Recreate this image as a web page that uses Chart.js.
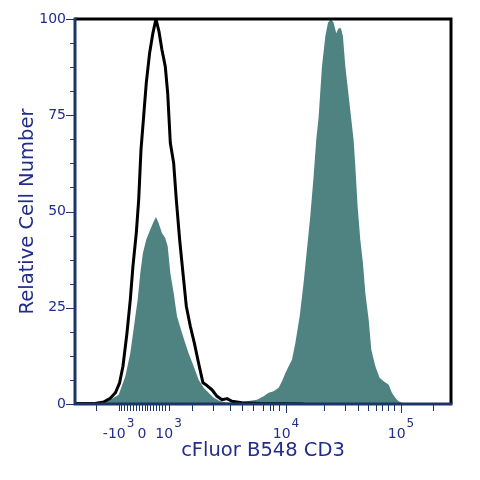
<!DOCTYPE html>
<html>
<head>
<meta charset="utf-8">
<script src="https://cdn.jsdelivr.net/npm/chart.js@4.4.0/dist/chart.umd.min.js"></script>
<style>
  html, body { margin: 0; padding: 0; background: #fff; }
</style>
</head>
<body>
<canvas id="histChart" width="480" height="480"></canvas>
<script>
// x values are in display units of the biexponential axis (10^4 at 4, 10^5 at 5)
const stainedX = [2.165, 2.356, 2.472, 2.545, 2.603, 2.646, 2.690, 2.710, 2.733, 2.756, 2.785, 2.820, 2.849, 2.869, 2.892, 2.921, 2.950, 2.971, 2.994, 3.023,
  3.052, 3.087, 3.124, 3.153, 3.197, 3.240, 3.284, 3.327, 3.371, 3.429, 3.487, 3.574, 3.661, 3.748, 3.806, 3.849, 3.892, 3.936, 3.965, 3.994,
  4.023, 4.052, 4.081, 4.119, 4.153, 4.182, 4.211, 4.240, 4.263, 4.284, 4.313, 4.342, 4.365, 4.391, 4.414, 4.437, 4.458, 4.478, 4.495, 4.516,
  4.545, 4.565, 4.588, 4.603, 4.623, 4.646, 4.669, 4.690, 4.719, 4.742, 4.777, 4.814, 4.849, 4.893, 4.921, 4.950, 4.979, 5.008, 5.052, 5.435];
const stainedY = [0, 0.3, 1.1, 2.4, 7.2, 13.2, 22.8, 27.1, 34.0, 39.2, 42.7, 45.3, 47.4, 48.6, 47.0, 44.4, 43.1, 41.0, 34.0, 28.8,
  22.8, 19.3, 15.8, 13.2, 9.8, 6.3, 4.2, 2.9, 1.6, 0.7, 0.4, 0.4, 0.7, 1.1, 2.0, 2.9, 3.3, 4.2, 5.9, 8.0,
  9.8, 11.5, 15.8, 22.8, 31.4, 40.1, 48.7, 59.1, 68.6, 74.7, 87.7, 95.5, 99.0, 100, 99.0, 96.3, 97.6, 97.6, 95.5, 87.7,
  80.0, 74.7, 68.6, 61.7, 51.3, 42.7, 36.6, 28.8, 21.9, 14.1, 9.8, 6.8, 5.9, 5.0, 2.9, 1.6, 0.7, 0.3, 0, 0];

const controlX = [2.165, 2.327, 2.414, 2.472, 2.516, 2.553, 2.582, 2.617, 2.646, 2.669, 2.698, 2.719, 2.739, 2.762, 2.785, 2.814, 2.843, 2.869, 2.895, 2.921,
  2.950, 2.971, 2.994, 3.023, 3.046, 3.075, 3.104, 3.133, 3.168, 3.203, 3.240, 3.278, 3.313, 3.356, 3.400, 3.443, 3.487, 3.530, 3.617, 3.777, 4.153];
const controlY = [0.1, 0.1, 0.5, 1.5, 2.9, 5.5, 9.8, 18.4, 27.1, 35.8, 44.4, 53.1, 66.1, 74.7, 83.4, 91.2, 96.4, 100, 96.8, 92.0,
  87.7, 80.8, 67.8, 62.6, 53.1, 42.7, 34.0, 25.4, 20.2, 15.8, 10.6, 5.5, 4.8, 3.7, 2.0, 1.1, 1.4, 0.7, 0.3, 0.1, 0];

// axis ticks and labels
const xTickValues = [2.348, 2.544, 2.568, 2.594, 2.620, 2.646, 2.672, 2.697, 2.723, 2.750, 2.772, 2.794, 2.820, 2.846, 2.872, 2.898, 2.924, 2.950, 2.979,
  3.183, 3.362, 3.515, 3.620, 3.713, 3.796, 3.862, 3.887, 3.942, 4.0,
  4.329, 4.510, 4.623, 4.710, 4.780, 4.836, 4.891, 4.935, 5.0, 5.275];
const xMajorTicks = [4.0, 5.0];
const xLabelPositions = [2.544, 2.748, 2.979, 4.0, 5.0];
const xLabelBases = ['-10', '0', '10', '10', '10'];
const xLabelExponents = ['3', '', '3', '4', '5'];
const yMajorStep = 25;

const textColor = '#222c8c';
const axisColor = '#1b3566';
const fillColor = '#4f8381';
const fontFamily = "'DejaVu Sans', Verdana, sans-serif";

const toPoints = (xs, ys) => xs.map((x, i) => ({ x: x, y: ys[i] }));

// draws frame, tick marks and the superscript x labels
const flowAxesPlugin = {
  id: 'flowAxes',
  afterDatasetsDraw(chart) {
    const { ctx, chartArea: a, scales: { x, y } } = chart;
    ctx.save();
    ctx.lineCap = 'butt';

    ctx.strokeStyle = '#000';
    ctx.lineWidth = 3;
    ctx.beginPath();
    ctx.moveTo(a.left, a.top);
    ctx.lineTo(a.right, a.top);
    ctx.lineTo(a.right, a.bottom);
    ctx.stroke();

    ctx.strokeStyle = axisColor;
    ctx.beginPath();
    ctx.moveTo(a.left, a.top - 1.5);
    ctx.lineTo(a.left, a.bottom);
    ctx.lineTo(a.right + 1.5, a.bottom);
    ctx.stroke();

    ctx.lineWidth = 1;
    ctx.beginPath();
    y.ticks.forEach(t => {
      const py = Math.round(y.getPixelForValue(t.value)) + 0.5;
      const len = t.value % yMajorStep === 0 ? 9 : 5;
      ctx.moveTo(a.left - len, py);
      ctx.lineTo(a.left, py);
    });
    xTickValues.forEach(v => {
      const px = Math.round(x.getPixelForValue(v)) + 0.5;
      const len = xMajorTicks.includes(v) ? 9 : 7;
      ctx.moveTo(px, a.bottom);
      ctx.lineTo(px, a.bottom + len);
    });
    ctx.stroke();

    ctx.fillStyle = textColor;
    ctx.textBaseline = 'alphabetic';
    ctx.textAlign = 'left';
    xLabelPositions.forEach((v, i) => {
      const baseFont = '14px ' + fontFamily;
      const expFont = '12px ' + fontFamily;
      ctx.font = baseFont;
      const bw = ctx.measureText(xLabelBases[i]).width;
      ctx.font = expFont;
      const ew = xLabelExponents[i] ? ctx.measureText(xLabelExponents[i]).width + 1 : 0;
      const left = x.getPixelForValue(v) - (bw + ew) / 2;
      ctx.font = baseFont;
      ctx.fillText(xLabelBases[i], left, 438);
      if (xLabelExponents[i]) {
        ctx.font = expFont;
        ctx.fillText(xLabelExponents[i], left + bw + 1, 426.5);
      }
    });
    ctx.restore();
  }
};

const ctx = document.getElementById('histChart').getContext('2d');
new Chart(ctx, {
  type: 'line',
  data: {
    datasets: [{
      label: 'Unstained control',
      data: toPoints(controlX, controlY),
      borderColor: '#000',
      borderWidth: 3,
      borderJoinStyle: 'round',
      pointRadius: 0,
      fill: false,
      tension: 0
    }, {
      label: 'cFluor B548 CD3',
      data: toPoints(stainedX, stainedY),
      borderWidth: 0,
      borderColor: fillColor,
      backgroundColor: fillColor,
      pointRadius: 0,
      fill: 'origin',
      tension: 0
    }]
  },
  options: {
    responsive: false,
    animation: false,
    devicePixelRatio: 1,
    layout: { padding: { top: 19, right: 29, left: 0, bottom: 0 } },
    plugins: {
      legend: { display: false },
      tooltip: { enabled: false }
    },
    scales: {
      x: {
        type: 'linear',
        min: 2.165,
        max: 5.435,
        grid: { display: false },
        border: { display: false },
        ticks: { display: false },
        title: {
          display: true,
          text: 'cFluor B548 CD3',
          color: textColor,
          font: { family: fontFamily, size: 19.5 },
          padding: { top: 0, bottom: 17 }
        },
        afterFit(scale) { scale.height = 76; }
      },
      y: {
        min: 0,
        max: 100,
        grid: { display: false, drawTicks: false },
        border: { display: false },
        ticks: {
          stepSize: 6.25,
          autoSkip: false,
          maxTicksLimit: 20,
          padding: 9,
          color: textColor,
          font: { family: fontFamily, size: 14 },
          callback: v => (v % yMajorStep === 0 ? v : '')
        },
        title: {
          display: true,
          text: 'Relative Cell Number',
          color: textColor,
          font: { family: fontFamily, size: 19.5 },
          padding: { top: 16, bottom: 0 }
        },
        afterFit(scale) { scale.width = 75; }
      }
    }
  },
  plugins: [flowAxesPlugin]
});
</script>
</body>
</html>
